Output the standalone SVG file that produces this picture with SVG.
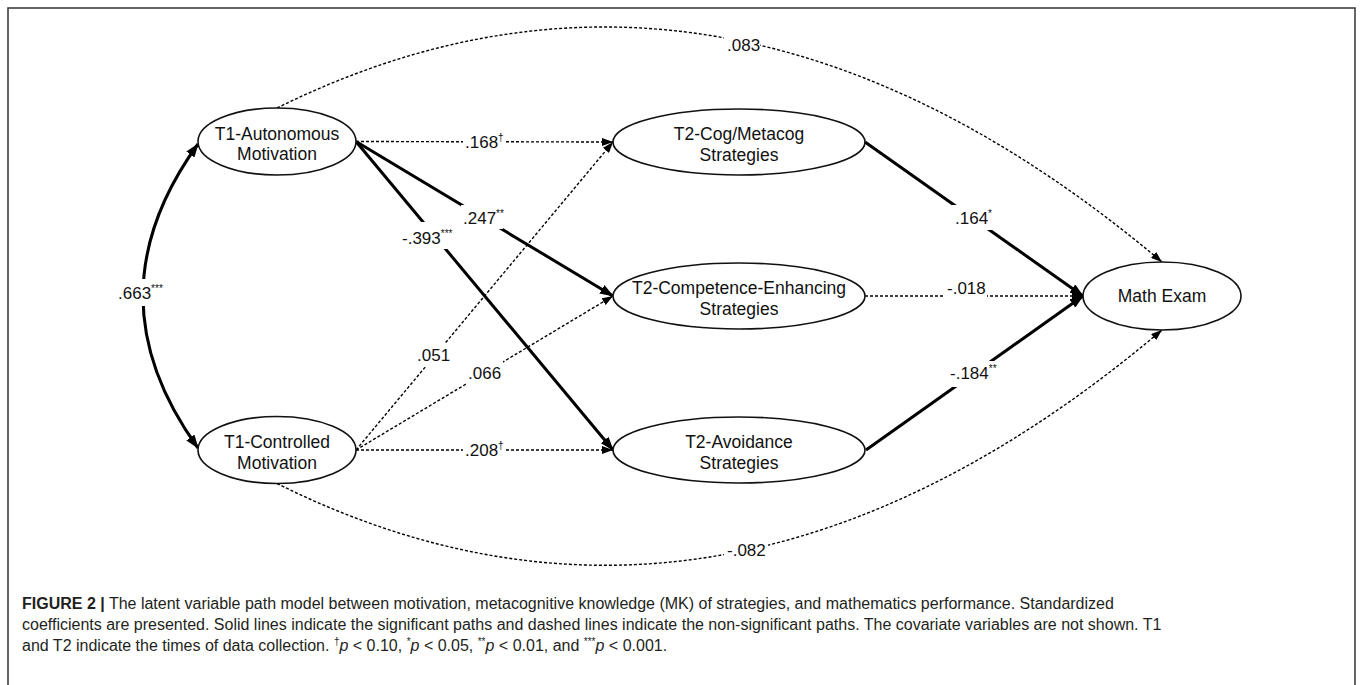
<svg xmlns="http://www.w3.org/2000/svg" width="1360" height="685" viewBox="0 0 1360 685">
<defs>
<style>
.node ellipse{fill:#fff;stroke:#111;stroke-width:1.6}
.node text{font-family:"Liberation Sans",Arial,sans-serif;font-size:17.5px;fill:#111;text-anchor:middle}
.sig{fill:none;stroke:#000;stroke-width:3}
.ns{fill:none;stroke:#000;stroke-width:1.4;stroke-dasharray:3 2}
.lbl rect{fill:#fff}
.lbl text{font-family:"Liberation Sans",Arial,sans-serif;font-size:17px;fill:#111}
.sup{font-size:10px}
.cap{font-family:"Liberation Sans",Arial,sans-serif;font-size:16px;fill:#231f20}
.frame{fill:none;stroke:#333;stroke-width:1.5}
</style>
<marker id="aL" viewBox="0 0 14 10" refX="13" refY="5" markerWidth="14" markerHeight="10" markerUnits="userSpaceOnUse" orient="auto-start-reverse"><path d="M0,0 L14,5 L0,10 Z" fill="#000"/></marker>
<marker id="aS" viewBox="0 0 11 8" refX="11" refY="4" markerWidth="11" markerHeight="8" markerUnits="userSpaceOnUse" orient="auto"><path d="M0,0 L11,4 L0,8 Z" fill="#000"/></marker>
</defs>
<rect width="1360" height="685" fill="#fff"/>
<path class="frame" d="M8,700 V8 H1355 V700"/>
<g id="connectors">
<path class="ns" d="M356,141.5 L613,142" marker-end="url(#aS)"/>
<path class="sig" d="M356,141.5 L613,296" marker-end="url(#aL)"/>
<path class="sig" d="M356,141.5 L613,450" marker-end="url(#aL)"/>
<path class="ns" d="M356,450 L613,142" marker-end="url(#aS)"/>
<path class="ns" d="M356,450 L613,296" marker-end="url(#aS)"/>
<path class="ns" d="M356,450 L613,450" marker-end="url(#aS)"/>
<path class="sig" d="M865,142 L1083,296" marker-end="url(#aL)"/>
<path class="ns" d="M865,296 L1083,296" marker-end="url(#aS)"/>
<path class="sig" d="M866,450 L1083,296" marker-end="url(#aL)"/>
<path class="ns" d="M277,108 Q719.5,-111 1162,262" marker-end="url(#aS)"/>
<path class="ns" d="M277,483.5 Q719.5,704 1162,330" marker-end="url(#aS)"/>
<path class="sig" d="M198,144 Q88,296 198,448" marker-start="url(#aL)" marker-end="url(#aL)"/>
<g class="lbl">
<rect x="463" y="133" width="42" height="18"/><text x="465" y="148">.168<tspan class="sup" dy="-7">†</tspan></text>
<rect x="461" y="205" width="42" height="24"/><text x="463" y="224">.247<tspan class="sup" dy="-7">**</tspan></text>
<rect x="400" y="222" width="57" height="27"/><text x="402" y="244">-.393<tspan class="sup" dy="-7">***</tspan></text>
<rect x="415" y="343" width="37" height="24"/><text x="417" y="361">.051</text>
<rect x="466" y="361" width="37" height="24"/><text x="468" y="379">.066</text>
<rect x="463" y="441" width="42" height="18"/><text x="465" y="456">.208<tspan class="sup" dy="-7">†</tspan></text>
<rect x="952" y="205" width="44" height="25"/><text x="955" y="224">.164<tspan class="sup" dy="-7">*</tspan></text>
<rect x="945" y="279" width="42" height="19"/><text x="947" y="294">-.018</text>
<rect x="948" y="361" width="52" height="26"/><text x="950" y="379">-.184<tspan class="sup" dy="-7">**</tspan></text>
<rect x="724" y="34" width="36" height="20"/><text x="727" y="51">.083</text>
<rect x="724" y="540" width="44" height="20"/><text x="727" y="556">-.082</text>
<rect x="116" y="279" width="54" height="27"/><text x="118" y="299">.663<tspan class="sup" dy="-7">***</tspan></text>
</g>
</g>
<g id="t1-autonomous" class="node"><ellipse cx="277" cy="141.5" rx="79" ry="33.5"/><text x="277" y="139.5">T1-Autonomous</text><text x="277" y="160">Motivation</text></g>
<g id="t1-controlled" class="node"><ellipse cx="277" cy="450" rx="79" ry="33.5"/><text x="277" y="448">T1-Controlled</text><text x="277" y="468.5">Motivation</text></g>
<g id="t2-cog" class="node"><ellipse cx="739" cy="142" rx="126" ry="33"/><text x="739" y="140">T2-Cog/Metacog</text><text x="739" y="160.5">Strategies</text></g>
<g id="t2-comp" class="node"><ellipse cx="739" cy="296" rx="126" ry="33"/><text x="739" y="294">T2-Competence-Enhancing</text><text x="739" y="314.5">Strategies</text></g>
<g id="t2-avoid" class="node"><ellipse cx="739" cy="450" rx="126" ry="33"/><text x="739" y="448">T2-Avoidance</text><text x="739" y="468.5">Strategies</text></g>
<g id="math-exam" class="node"><ellipse cx="1162" cy="296" rx="79" ry="34"/><text x="1162" y="302">Math Exam</text></g>
<g id="caption">
<text class="cap" x="22" y="609"><tspan font-weight="bold">FIGURE 2 |</tspan> The latent variable path model between motivation, metacognitive knowledge (MK) of strategies, and mathematics performance. Standardized</text>
<text class="cap" x="22" y="630">coefficients are presented. Solid lines indicate the significant paths and dashed lines indicate the non-significant paths. The covariate variables are not shown. T1</text>
<text class="cap" x="22" y="651">and T2 indicate the times of data collection. <tspan font-size="10" dy="-6">†</tspan><tspan dy="6" font-style="italic">p</tspan> &lt; 0.10, <tspan font-size="10" dy="-6">*</tspan><tspan dy="6" font-style="italic">p</tspan> &lt; 0.05, <tspan font-size="10" dy="-6">**</tspan><tspan dy="6" font-style="italic">p</tspan> &lt; 0.01, and <tspan font-size="10" dy="-6">***</tspan><tspan dy="6" font-style="italic">p</tspan> &lt; 0.001.</text>
</g>
</svg>
